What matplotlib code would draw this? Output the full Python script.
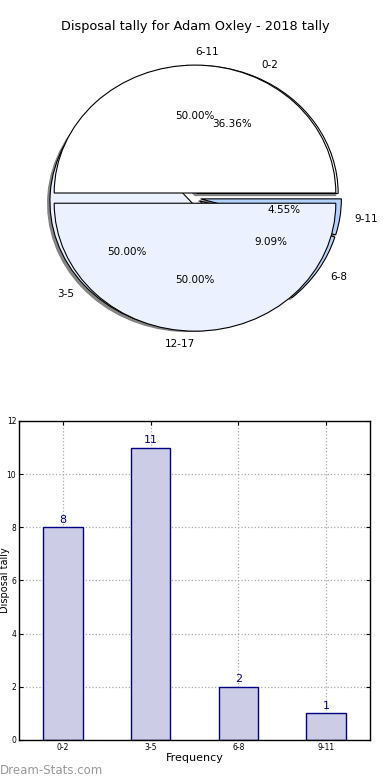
import matplotlib
matplotlib.use("Agg")
import matplotlib.pyplot as plt

title = "Disposal tally for Adam Oxley - 2018 tally"
cat_labels = ["0-2", "3-5", "6-8", "9-11"]
cat_values = [8, 11, 2, 1]
half_labels = ["6-11", "12-17"]
half_values = [1, 1]
pie_colors = ["#FFFFFF", "#EBF1FF", "#B9D5FF", "#B3D1FF"]
bar_color = "#CCCCE6"
edge_navy = "#000080"
yticks = [0, 2, 4, 6, 8, 10, 12]

fig = plt.figure(figsize=(3.9, 7.8), dpi=100)
fig.patch.set_facecolor("white")

# ---- Pie ----
axp = fig.add_axes([0.0487, 0.541, 0.9026, 0.41])
wp = dict(edgecolor="black", linewidth=0.8)
tp = dict(fontsize=7.5, color="black")
shadow_props = {"ox": -0.012, "oy": -0.012, "facecolor": "#7A7A7A",
                "edgecolor": "#7A7A7A", "alpha": 0.9, "label": "_nolegend_"}
axp.pie(cat_values, labels=cat_labels, autopct="%.2f%%", explode=[0.04] * 4,
        colors=pie_colors, shadow=shadow_props, startangle=0, wedgeprops=wp,
        textprops=tp)
_, htexts, _ = axp.pie(half_values, labels=half_labels, autopct="%.2f%%",
                       explode=[0.04] * 2, colors=pie_colors[:2], shadow=False,
                       startangle=0, wedgeprops=wp, textprops=tp)
htexts[0].set_horizontalalignment("left")
htexts[1].set_horizontalalignment("right")
axp.set_aspect("auto")
axp.set_xlim(-1.25, 1.25)
axp.set_ylim(-1.25, 1.25)
axp.set_title(title, fontsize=9.3, pad=6)

# ---- Bars ----
axb = fig.add_axes([0.0487, 0.0513, 0.9, 0.409])
x = list(range(len(cat_labels)))
axb.bar(x, cat_values, width=0.45, color=bar_color, edgecolor=edge_navy,
        linewidth=1.0, zorder=2)
for xi, v in zip(x, cat_values):
    axb.text(xi, v + 0.1, str(v), ha="center", va="bottom", color=edge_navy, fontsize=8)
axb.set_xlim(-0.5, 3.5)
axb.set_ylim(0, 12)
axb.set_xticks(x)
axb.set_xticklabels(cat_labels)
axb.set_yticks(yticks)
axb.tick_params(direction="in", top=True, right=True, labelsize=5.5, length=3, pad=2)
axb.grid(True, linestyle=":", color="#AAAAAA", linewidth=0.9, zorder=0)
axb.set_axisbelow(True)
axb.set_xlabel("Frequency", fontsize=8, labelpad=1)
fig.text(0.001, 0.256, "Disposal tally", rotation=90, fontsize=7,
         ha="left", va="center")
for s in axb.spines.values():
    s.set_linewidth(1.0)

fig.text(0.0, 0.012, "Dream-Stats.com", fontsize=8.5, color="#999999",
         ha="left", va="center")

fig.savefig("out.png", dpi=100)
